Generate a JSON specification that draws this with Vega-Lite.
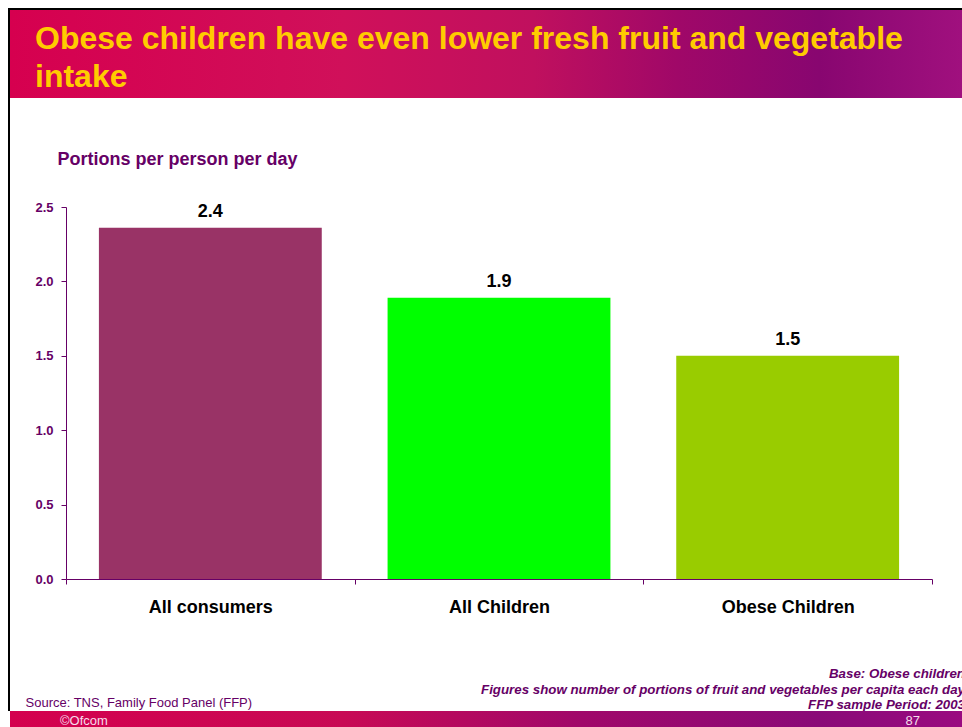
{
  "$schema": "https://vega.github.io/schema/vega-lite/v6.json",
  "background": "white",
  "padding": {"left": 8, "top": 8, "right": 0, "bottom": 0},
  "config": {
    "view": {"stroke": null},
    "font": "Liberation Sans"
  },
  "spacing": 0,
  "bounds": "flush",
  "hconcat": [
    {
      "width": 2, "height": 703,
      "data": {"values": [{}]},
      "mark": {"type": "rect", "color": "black"},
      "encoding": {}
    },
    {
      "spacing": 0,
      "bounds": "flush",
      "vconcat": [
        {
          "width": 960, "height": 2,
          "data": {"values": [{}]},
          "mark": {"type": "rect", "color": "black"},
          "encoding": {}
        },
        {
          "width": 952, "height": 88,
          "data": {"values": [{}]},
          "title": {
            "text": ["Obese children have even lower fresh fruit and vegetable", "intake"],
            "orient": "bottom", "anchor": "start", "frame": "group", "align": "left",
            "baseline": "top", "offset": -74, "dx": 25, "lineHeight": 38.4,
            "fontSize": 32, "fontWeight": "bold", "color": "#FFCC00", "zindex": 1
          },
          "mark": {
            "type": "rect",
            "color": {
              "gradient": "linear", "x1": 0, "y1": 0, "x2": 1, "y2": 0,
              "stops": [
                {"offset": 0, "color": "#D6004F"},
                {"offset": 0.35, "color": "#D0105A"},
                {"offset": 0.55, "color": "#C0105E"},
                {"offset": 0.7, "color": "#A00868"},
                {"offset": 0.85, "color": "#880670"},
                {"offset": 1, "color": "#A0107E"}
              ]
            }
          },
          "encoding": {}
        },
        {
          "width": 952, "height": 109,
          "data": {"values": [{}]},
          "mark": {"type": "rect", "opacity": 0},
          "encoding": {}
        },
        {
          "width": 952, "height": 372,
          "data": {
            "values": [
              {"group": "All consumers", "value": 2.36},
              {"group": "All Children", "value": 1.89},
              {"group": "Obese Children", "value": 1.5}
            ]
          },
          "encoding": {
            "x": {
              "field": "group", "type": "nominal", "sort": null,
              "scale": {"paddingInner": 0, "paddingOuter": 0, "range": [56, 922]},
              "axis": {
                "title": "Source: TNS, Family Food Panel (FFP)",
                "titleX": 15, "titleY": 127, "titleAlign": "left", "titleBaseline": "alphabetic", "titleAngle": 0,
                "titleFontSize": 13, "titleFontWeight": "normal", "titleColor": "#660066",
                "labelAngle": 0, "labelFontSize": 18, "labelFontWeight": "bold",
                "labelColor": "black", "tickBand": "extent", "tickSize": 5,
                "tickColor": "#660066", "domainColor": "#660066", "labelPadding": 14
              }
            },
            "y": {
              "field": "value", "type": "quantitative",
              "scale": {"domain": [0, 2.5], "nice": false},
              "axis": {
                "offset": -56,
                "title": "Portions per person per day", "titleAngle": 0, "titleAlign": "left",
                "titleBaseline": "middle", "titleX": -9, "titleY": -48, "titleFontSize": 18,
                "titleFontWeight": "bold", "titleColor": "#660066",
                "values": [0, 0.5, 1, 1.5, 2, 2.5], "format": ".1f",
                "labelFontSize": 13, "labelFontWeight": "bold", "labelColor": "#660066",
                "domainColor": "#660066", "tickColor": "#660066", "tickSize": 5,
                "labelPadding": 8, "grid": false
              }
            }
          },
          "layer": [
            {
              "mark": {"type": "bar", "width": {"band": 0.772}},
              "encoding": {
                "color": {
                  "field": "group", "type": "nominal", "legend": null,
                  "scale": {
                    "domain": ["All consumers", "All Children", "Obese Children"],
                    "range": ["#993366", "#00FF00", "#99CC00"]
                  }
                }
              }
            },
            {
              "mark": {"type": "text", "baseline": "alphabetic", "dy": -11, "fontSize": 18, "fontWeight": "bold", "color": "black"},
              "encoding": {
                "text": {"field": "value", "type": "quantitative", "format": ".1f"}
              }
            }
          ]
        },
        {
          "width": 952, "height": 132,
          "data": {"values": [{}]},
          "title": {
            "text": ["Base: Obese children", "Figures show number of portions of fruit and vegetables per capita each day", "FFP sample Period: 2003"],
            "orient": "bottom", "anchor": "end", "frame": "group", "align": "right",
            "baseline": "top", "offset": -43.6, "dx": 3, "lineHeight": 15.3,
            "fontSize": 13.3, "fontWeight": "bold", "fontStyle": "italic", "color": "#660066", "zindex": 1
          },
          "mark": {"type": "rect", "opacity": 0},
          "encoding": {}
        },
        {
          "width": 952, "height": 20,
          "data": {"values": [{}]},
          "title": {
            "text": "©Ofcom",
            "orient": "bottom", "anchor": "start", "frame": "group", "align": "left",
            "baseline": "top", "offset": -15.8, "dx": 50,
            "fontSize": 13, "fontWeight": "normal", "color": "#F6DCEB", "zindex": 1
          },
          "mark": {
            "type": "rect",
            "color": {
              "gradient": "linear", "x1": 0, "y1": 0, "x2": 1, "y2": 0,
              "stops": [
                {"offset": 0, "color": "#D4004E"},
                {"offset": 0.35, "color": "#C80A55"},
                {"offset": 0.6, "color": "#A0086A"},
                {"offset": 0.85, "color": "#8A0A78"},
                {"offset": 1, "color": "#9A0A80"}
              ]
            }
          },
          "encoding": {}
        },
        {
          "width": 952, "height": 1,
          "data": {"values": [{}]},
          "title": {
            "text": "87",
            "orient": "bottom", "anchor": "end", "frame": "group", "align": "right",
            "baseline": "top", "offset": -16.8, "dx": -42,
            "fontSize": 13, "fontWeight": "normal", "color": "#F6DCEB", "zindex": 1
          },
          "mark": {"type": "rect", "opacity": 0},
          "encoding": {}
        }
      ]
    }
  ]
}
